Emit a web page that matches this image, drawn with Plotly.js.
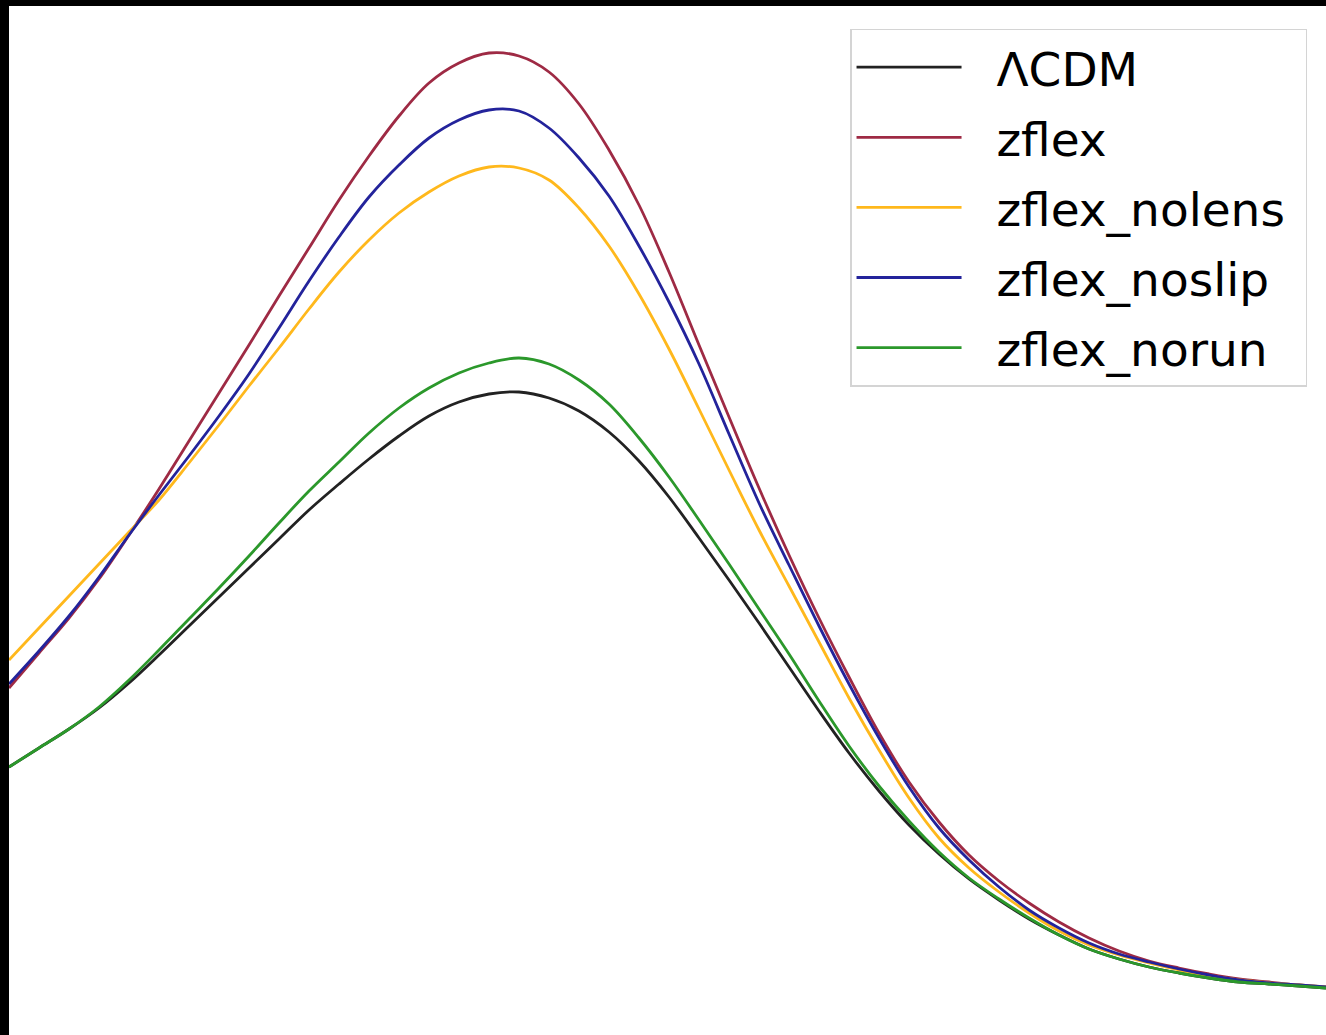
<!DOCTYPE html>
<html>
<head>
<meta charset="utf-8">
<script src="https://cdn.plot.ly/plotly-3.0.1.min.js"></script>
<style>html,body{margin:0;padding:0;background:#000;}#chart{width:1326px;height:1035px;}</style>
</head>
<body>
<div id="chart"></div>
<script>
// shared abscissa (arbitrary units)
const xGrid = [0,30,60,90,120,150,180,210,240,270,300,330,360,390,420,450,480,510,540,570,600,630,660,690,720,750,780,810,840,870,900,930,960,990,1020,1050,1080,1110,1140,1170,1200,1230,1260,1290,1317];

const seriesNames = ["ΛCDM","zflex","zflex_nolens","zflex_noslip","zflex_norun"];
const lcdm = [2.68,2.87,3.06,3.27,3.52,3.80,4.09,4.38,4.67,4.96,5.25,5.51,5.76,5.99,6.19,6.33,6.41,6.43,6.37,6.24,6.03,5.74,5.38,4.97,4.55,4.12,3.68,3.24,2.82,2.44,2.10,1.81,1.56,1.35,1.16,1.00,0.86,0.76,0.68,0.62,0.57,0.53,0.51,0.49,0.47];
const zflex = [3.47,3.82,4.17,4.56,5.00,5.46,5.94,6.42,6.90,7.39,7.87,8.35,8.79,9.19,9.52,9.72,9.82,9.79,9.63,9.31,8.85,8.30,7.63,6.90,6.18,5.47,4.80,4.17,3.58,3.02,2.53,2.13,1.80,1.54,1.32,1.13,0.97,0.84,0.74,0.67,0.61,0.56,0.53,0.50,0.48];
const zflexNolens = [3.75,4.07,4.39,4.71,5.03,5.35,5.72,6.10,6.49,6.87,7.26,7.63,7.95,8.22,8.43,8.59,8.68,8.67,8.55,8.27,7.89,7.41,6.86,6.26,5.65,5.05,4.49,3.93,3.37,2.85,2.37,1.97,1.67,1.43,1.22,1.04,0.90,0.80,0.72,0.65,0.59,0.55,0.52,0.50,0.48];
const zflexNoslip = [3.51,3.84,4.19,4.58,5.00,5.40,5.79,6.19,6.61,7.07,7.54,7.98,8.38,8.70,8.97,9.15,9.25,9.24,9.07,8.77,8.39,7.89,7.33,6.71,6.01,5.32,4.70,4.09,3.51,2.97,2.48,2.07,1.75,1.48,1.25,1.07,0.92,0.81,0.73,0.66,0.60,0.55,0.52,0.50,0.48];
const zflexNorun = [2.68,2.87,3.06,3.28,3.55,3.85,4.16,4.47,4.79,5.12,5.44,5.73,6.02,6.27,6.47,6.62,6.72,6.77,6.71,6.55,6.31,5.97,5.58,5.15,4.71,4.26,3.81,3.34,2.89,2.49,2.14,1.83,1.57,1.36,1.17,1.00,0.86,0.76,0.68,0.62,0.57,0.53,0.51,0.49,0.47];

const seriesValues = [lcdm, zflex, zflexNolens, zflexNoslip, zflexNorun];
const seriesColors = ["#222222","#9e2a44","#ffb81c","#23239b","#2b982b"];

const NB = "\u00a0";
const traces = seriesNames.map((n,i)=>({
  type:"scatter", mode:"lines", name:NB+NB+n+NB, x:xGrid, y:seriesValues[i],
  legendgroup:"g"+i,
  line:{color:seriesColors[i], width:2.8, shape:"spline", smoothing:1},
  hoverinfo:"skip"
}));

const layout = {
  width:1326, height:1035,
  paper_bgcolor:"#000000", plot_bgcolor:"#ffffff",
  margin:{l:9, r:0, t:6, b:0, pad:0},
  font:{family:"DejaVu Sans, sans-serif", color:"#000"},
  xaxis:{range:[0,1317], showgrid:false, zeroline:false, showticklabels:false, ticks:"", showline:false},
  yaxis:{range:[0,10.29], showgrid:false, zeroline:false, showticklabels:false, ticks:"", showline:false},
  showlegend:true,
  legend:{
    x:0.6386, y:0.978, xanchor:"left", yanchor:"top",
    bgcolor:"#ffffff", bordercolor:"#d4d4d4", borderwidth:1.5,
    font:{size:47, family:"DejaVu Sans, sans-serif", color:"#000"},
    itemwidth:105, tracegroupgap:6, traceorder:"grouped"
  }
};

Plotly.newPlot("chart", traces, layout, {staticPlot:true, displayModeBar:false});
</script>
</body>
</html>
